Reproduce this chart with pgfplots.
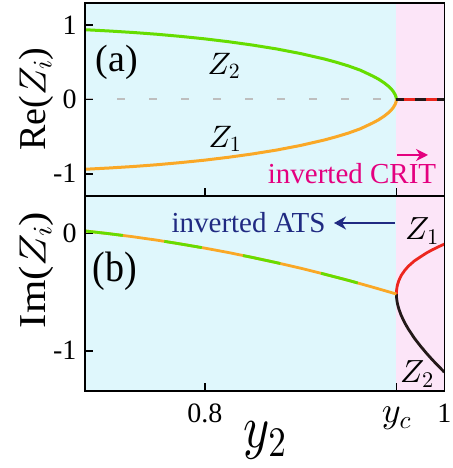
\documentclass[border=0pt]{standalone}
\usepackage{fontspec}
\setmainfont{Liberation Serif}
\DeclareFontShape{OML}{cmm}{m}{it}{<->cmmi10}{}
\DeclareFontShape{OT1}{cmr}{m}{n}{<->cmr10}{}
\DeclareFontShape{OMS}{cmsy}{m}{n}{<->cmsy10}{}
\DeclareFontShape{OMX}{cmex}{m}{n}{<->cmex10}{}
\usepackage{pgfplots}
\pgfplotsset{compat=1.18}
\usetikzlibrary{arrows.meta}

\definecolor{bgcyan}{RGB}{223,247,252}
\definecolor{bgpink}{RGB}{252,229,248}
\definecolor{cgreen}{RGB}{102,221,0}
\definecolor{corange}{RGB}{250,168,38}
\definecolor{cred}{RGB}{236,38,30}
\definecolor{cblack}{RGB}{35,25,25}
\definecolor{cmag}{RGB}{228,0,127}
\definecolor{cnavy}{RGB}{32,42,130}
\definecolor{cgray}{RGB}{190,190,190}

\pgfplotsset{
  panel/.style={
    scale only axis, width=359.3pt,
    xmin=0.7, xmax=1.0,
    axis line style={line width=1.6pt},
    tick style={line width=1.6pt, black},
    major tick length=8pt,
    tick align=inside, tick pos=left,
    axis background/.style={fill=bgcyan},
    axis on top,
    ticklabel style={font=\fontsize{28}{30}\selectfont, inner sep=0pt, outer sep=0pt},
    yticklabel style={anchor=east, xshift=-8.5pt},
    xticklabel style={anchor=base, yshift=-32pt},
  }
}

\begin{document}
\begin{tikzpicture}
\path[use as bounding box] (0pt,0pt) rectangle (452pt,468pt);

% ---------- (a) Re ----------
\begin{axis}[panel, at={(85pt,272pt)}, anchor=south west, height=193pt,
  ymin=-1.3, ymax=1.3, ytick={-1,0,1}, yticklabels={-1,0,1},
  xtick={0.8,0.96}, xticklabels={,,},
  every axis y label/.style={at={(axis description cs:-0.135,0.5026)}, anchor=center, rotate=90, inner sep=0pt},
  ylabel={\fontsize{38}{40}\selectfont Re($Z_i$)}]
\addplot[draw=none, fill=bgpink] coordinates {(0.96,-1.3) (1.0,-1.3) (1.0,1.3) (0.96,1.3)} -- cycle;
\addplot[cgray, line width=2pt, dash pattern=on 8pt off 24pt] coordinates {(0.7,0) (0.96,0)};
\addplot[cgreen, line width=3pt, line join=round] coordinates {
(0.700,0.940)(0.720,0.923)(0.740,0.903)(0.760,0.879)(0.780,0.850)(0.800,0.817)
(0.820,0.778)(0.840,0.733)(0.860,0.681)(0.880,0.619)(0.900,0.545)(0.910,0.501)
(0.920,0.452)(0.930,0.394)(0.940,0.318)(0.945,0.275)(0.950,0.222)(0.954,0.170)
(0.957,0.118)(0.959,0.065)(0.9598,0.028)(0.960,0.000)};
\addplot[corange, line width=3pt, line join=round] coordinates {
(0.700,-0.940)(0.720,-0.923)(0.740,-0.903)(0.760,-0.879)(0.780,-0.850)(0.800,-0.817)
(0.820,-0.778)(0.840,-0.733)(0.860,-0.681)(0.880,-0.619)(0.900,-0.545)(0.910,-0.501)
(0.920,-0.452)(0.930,-0.394)(0.940,-0.318)(0.945,-0.275)(0.950,-0.222)(0.954,-0.170)
(0.957,-0.118)(0.959,-0.065)(0.9598,-0.028)(0.960,0.000)};
\addplot[cblack, line width=3pt] coordinates {(0.96,0) (1.0,0)};
\addplot[cred, line width=3pt, dash pattern=on 11pt off 11pt, dash phase=14pt] coordinates {(0.96,0) (1.0,0)};
\end{axis}

% ---------- (b) Im ----------
\begin{axis}[panel, at={(85pt,77pt)}, anchor=south west, height=195pt,
  ymin=-1.343, ymax=0.318, ytick={-1,0}, yticklabels={-1,0},
  xtick={0.8,0.96,1}, xticklabels={0.8,{\fontsize{36}{36}\selectfont$y_c$},1},
  every axis y label/.style={at={(axis description cs:-0.135,0.6205)}, anchor=center, rotate=90, inner sep=0pt},
  ylabel={\fontsize{38}{40}\selectfont\scalebox{1.13}[1]{Im($Z_i$)}},
  every axis x label/.style={at={(axis description cs:0.501,-0.252)}, anchor=center, inner sep=0pt, outer sep=0pt},
  xlabel={\fontsize{50}{50}\selectfont\scalebox{1}[1.2]{$y_2$}}]
\addplot[draw=none, fill=bgpink] coordinates {(0.96,-1.343) (1.0,-1.343) (1.0,0.318) (0.96,0.318)} -- cycle;
\addplot[cblack, line width=2.8pt, line join=round] coordinates {
(0.96,-0.517)(0.9601,-0.544)(0.9605,-0.578)(0.961,-0.605)(0.962,-0.643)(0.964,-0.699)
(0.967,-0.763)(0.970,-0.816)(0.975,-0.893)(0.980,-0.959)(0.985,-1.020)(0.990,-1.077)
(0.995,-1.130)(1.0,-1.182)};
\addplot[cred, line width=2.8pt, line join=round] coordinates {
(0.96,-0.517)(0.9601,-0.490)(0.9605,-0.458)(0.961,-0.435)(0.962,-0.403)(0.964,-0.359)
(0.967,-0.315)(0.970,-0.280)(0.975,-0.235)(0.980,-0.201)(0.985,-0.168)(0.990,-0.140)
(0.995,-0.115)(1.0,-0.092)};
\addplot[corange, line width=2.8pt, line join=round] coordinates {
(0.70,0.020)(0.72,-0.003)(0.74,-0.029)(0.76,-0.058)(0.78,-0.091)(0.80,-0.126)
(0.82,-0.164)(0.84,-0.206)(0.86,-0.250)(0.88,-0.297)(0.90,-0.348)(0.92,-0.401)
(0.94,-0.458)(0.96,-0.517)};
\addplot[cgreen, line width=2.8pt, line join=round, dash pattern=on 38pt off 42pt] coordinates {
(0.70,0.020)(0.72,-0.003)(0.74,-0.029)(0.76,-0.058)(0.78,-0.091)(0.80,-0.126)
(0.82,-0.164)(0.84,-0.206)(0.86,-0.250)(0.88,-0.297)(0.90,-0.348)(0.92,-0.401)
(0.94,-0.458)(0.96,-0.517)};
\end{axis}

% ---------- annotations ----------
\node[font=\fontsize{38}{40}\selectfont] at (117pt,405.5pt) {(a)};
\node[font=\fontsize{38}{40}\selectfont] at (115pt,196.5pt) {\scalebox{1}[1.12]{(b)}};
\node[font=\fontsize{31}{32}\selectfont] at (224pt,402pt) {$Z_2$};
\node[font=\fontsize{31}{32}\selectfont] at (225pt,329pt) {$Z_1$};
\node[font=\fontsize{32}{33}\selectfont] at (422pt,237pt) {$Z_1$};
\node[font=\fontsize{32}{33}\selectfont] at (417pt,94pt) {$Z_2$};
\node[font=\fontsize{29}{30}\selectfont, text=cmag, anchor=base, inner sep=0pt] at (352pt,284pt) {inverted CRIT};
\draw[cmag, line width=2.3pt, -{Stealth[length=12pt, width=12pt]}] (397pt,313pt) -- (428pt,313pt);
\node[font=\fontsize{29}{30}\selectfont, text=cnavy, anchor=base, inner sep=0pt] at (248.5pt,235pt) {inverted ATS};
\draw[cnavy, line width=2.3pt, -{Stealth[length=12pt, width=13pt]}] (395pt,245pt) -- (334pt,245pt);
\end{tikzpicture}
\end{document}
